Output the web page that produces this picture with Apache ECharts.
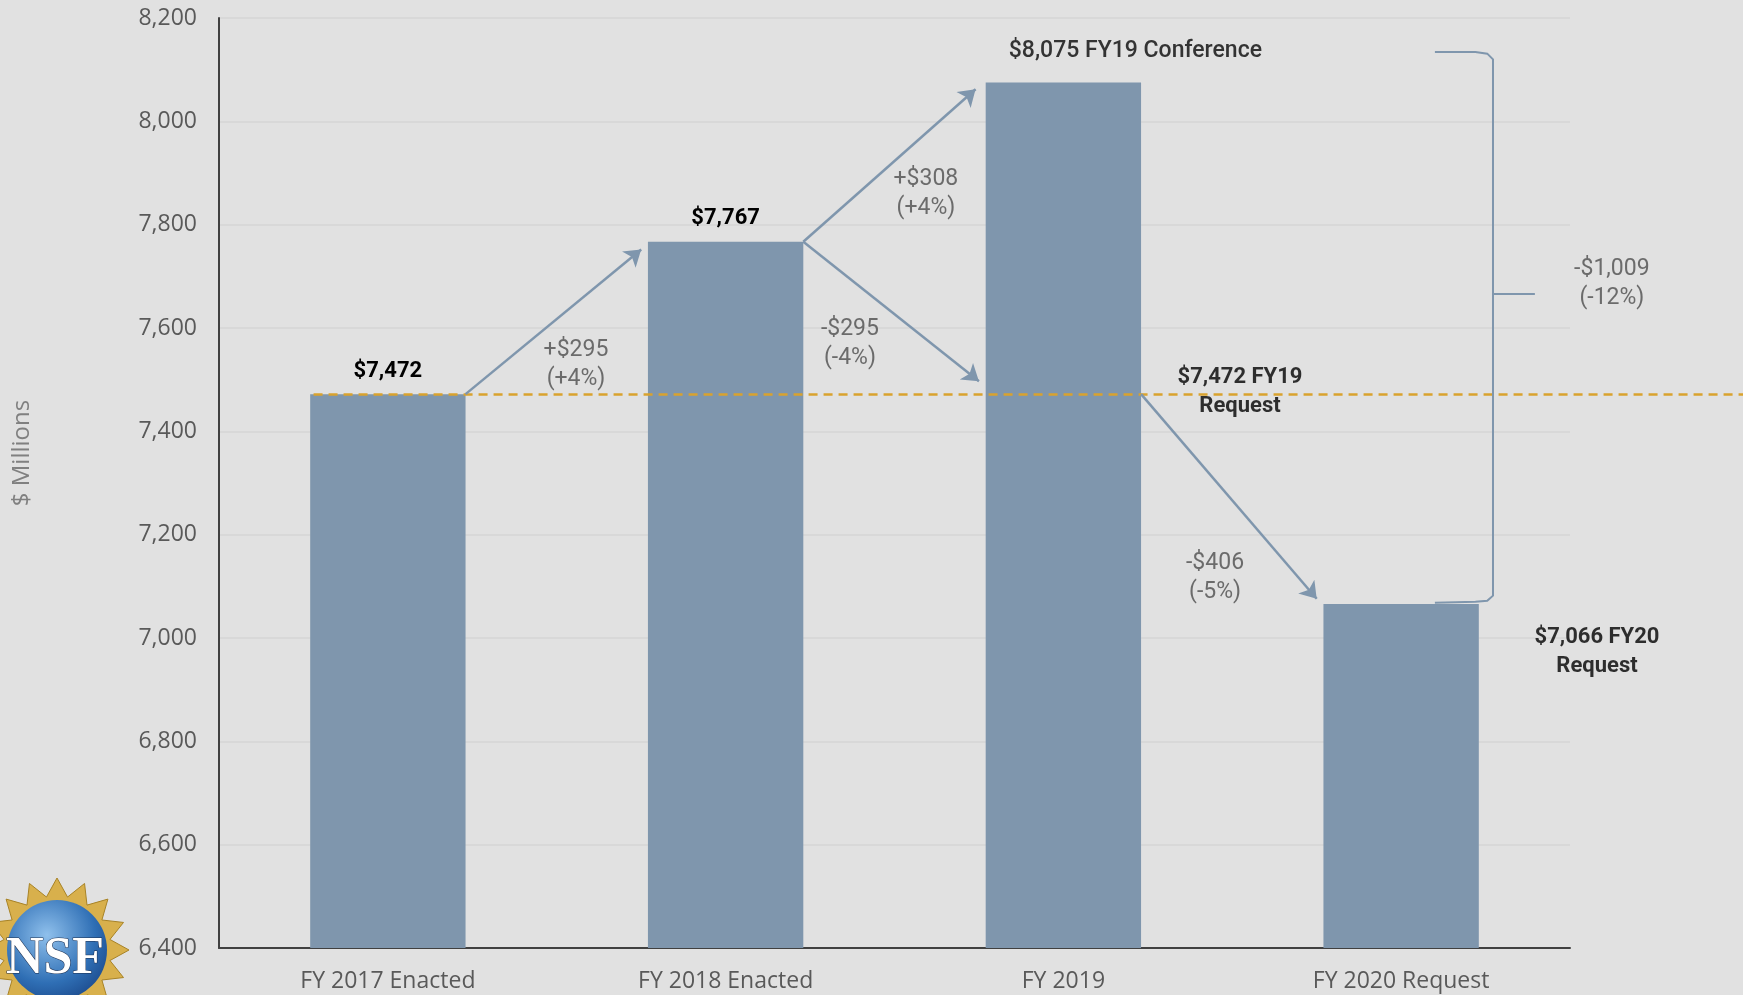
<!DOCTYPE html>
<html>
<head>
<meta charset="utf-8">
<title>NSF Budget</title>
<script src="https://cdn.jsdelivr.net/npm/echarts@6/dist/echarts.min.js"></script>
<style>
html, body { margin: 0; padding: 0; background: #e1e1e1; }
#chart { width: 1743px; height: 995px; }
</style>
</head>
<body>
<div id="chart"></div>
<script>
/* data */
var categories = ['FY 2017 Enacted', 'FY 2018 Enacted', 'FY 2019', 'FY 2020 Request'];
var funding = [7472, 7767, 8075, 7066];
var barLabels = ['$7,472', '$7,767', '$8,075 FY19 Conference', ''];
var yMin = 6400, yMax = 8200, yStep = 200;
var fy19Request = 7472;

/* arrows, [category position, $M] */
var arrows = [
    [[0.23, 7472], [0.75, 7752]],
    [[1.23, 7767], [1.74, 8062]],
    [[1.23, 7767], [1.75, 7497]],
    [[2.23, 7472], [2.75, 7076]]
];
var changeText = ['+$295\n(+4%)', '-$295\n(-4%)', '+$308\n(+4%)', '-$406\n(-5%)', '-$1,009\n(-12%)'];
var changeAt = [[0.557, 7534], [1.368, 7575], [1.593, 7865], [2.449, 7122], [3.624, 7691]];
var noteText = ['$7,472 FY19\nRequest', '$7,066 FY20\nRequest'];
var noteAt = [[2.523, 7482], [3.58, 6979]];
var bracket = [[3.10, 8134], [3.22, 8134], [3.255, 8131], [3.272, 8120], [3.272, 7082], [3.255, 7072], [3.22, 7070], [3.10, 7068]];
var bracketTick = [[3.272, 7666], [3.396, 7666]];

var blue = '#7f96ad';
var annFont = 'Roboto';
var axisFont = '"Open Sans"';

var chart = echarts.init(document.getElementById('chart'));

/* bar labels */
var barData = funding.map(function (v, i) {
    var item = {value: v, label: {show: barLabels[i] !== '', formatter: barLabels[i]}};
    if (i === 2) {
        item.label.distance = 5;
        item.label.offset = [72, -15];
        item.label.color = '#333333';
        item.label.fontWeight = 500;
        item.label.fontSize = 23;
    }
    return item;
});

var changeData = changeText.map(function (t, i) {
    return {value: changeAt[i], label: {formatter: t}};
});
var noteData = noteText.map(function (t, i) {
    return {value: noteAt[i], label: {formatter: t}};
});

/* NSF logo */
var starPts = [];
for (var k = 0; k < 32; k++) {
    var r = k % 2 === 0 ? 72 : 54;
    var a = Math.PI * k / 16 - Math.PI / 2;
    starPts.push([57 + r * Math.cos(a), 950 + r * Math.sin(a)]);
}

var option = {
    backgroundColor: '#e1e1e1',
    animation: false,
    grid: {left: 219, right: 173, top: 18, bottom: 47},
    xAxis: [{
        type: 'category',
        data: categories,
        axisLine: {lineStyle: {color: '#404040', width: 2}},
        axisTick: {show: false},
        axisLabel: {color: '#595959', fontSize: 23, fontFamily: axisFont, margin: 22}
    }, {
        type: 'value',
        min: -0.5,
        max: 3.5,
        show: false
    }],
    yAxis: {
        type: 'value',
        min: yMin,
        max: yMax,
        interval: yStep,
        axisLine: {show: true, onZero: false, lineStyle: {color: '#404040', width: 2}},
        axisTick: {show: false},
        splitLine: {lineStyle: {color: '#d5d5d5', width: 1.5}},
        axisLabel: {
            color: '#595959', fontSize: 23, fontFamily: axisFont, margin: 22,
            formatter: function (v) { return v.toLocaleString('en-US'); }
        }
    },
    series: [{
        type: 'bar',
        data: barData,
        barWidth: '46%',
        itemStyle: {color: blue},
        label: {
            position: 'top', distance: 12,
            color: '#000', fontWeight: 'bold', fontSize: 22, fontFamily: annFont
        },
        z: 2
    }, {
        type: 'lines',
        coordinateSystem: 'cartesian2d',
        xAxisIndex: 1,
        data: [{coords: [[-0.22, fy19Request], [4.2, fy19Request]]}],
        lineStyle: {color: '#d9a22e', width: 2.5, type: [9, 6], opacity: 1},
        symbol: 'none',
        clip: false,
        z: 3
    }, {
        type: 'lines',
        coordinateSystem: 'cartesian2d',
        xAxisIndex: 1,
        data: arrows.map(function (a) { return {coords: a}; }),
        lineStyle: {color: blue, width: 2.5, opacity: 1},
        symbol: ['none', 'arrow'],
        symbolSize: 16,
        z: 4
    }, {
        type: 'lines',
        coordinateSystem: 'cartesian2d',
        xAxisIndex: 1,
        polyline: true,
        data: [{coords: bracket}, {coords: bracketTick}],
        lineStyle: {color: blue, width: 2, opacity: 1},
        symbol: 'none',
        clip: false,
        z: 4
    }, {
        type: 'scatter',
        xAxisIndex: 1,
        data: changeData,
        symbolSize: 1,
        clip: false,
        itemStyle: {color: 'transparent'},
        label: {
            show: true, position: 'inside', align: 'center', verticalAlign: 'middle',
            offset: [0, 3],
            color: '#4d4d4d', fontSize: 23, lineHeight: 29, fontFamily: annFont, fontWeight: 'normal'
        },
        z: 5
    }, {
        type: 'scatter',
        xAxisIndex: 1,
        data: noteData,
        symbolSize: 1,
        clip: false,
        itemStyle: {color: 'transparent'},
        label: {
            show: true, position: 'inside', align: 'center', verticalAlign: 'middle',
            offset: [0, 3],
            color: '#000', fontSize: 22, lineHeight: 29, fontFamily: annFont, fontWeight: 'bold'
        },
        z: 5
    }],
    graphic: [{
        type: 'text',
        x: 22,
        y: 453,
        rotation: Math.PI / 2,
        style: {
            text: '$ Millions', fill: '#808080', font: '24px "Open Sans"',
            align: 'center', verticalAlign: 'middle'
        }
    }, {
        type: 'polygon',
        shape: {points: starPts},
        style: {fill: '#d8b04c', stroke: '#a88326', lineWidth: 1}
    }, {
        type: 'circle',
        shape: {cx: 57, cy: 950, r: 50},
        style: {
            fill: new echarts.graphic.RadialGradient(0.4, 0.35, 0.8, [
                {offset: 0, color: '#8fc0ec'},
                {offset: 0.6, color: '#2f6fb5'},
                {offset: 1, color: '#163f80'}
            ])
        }
    }, {
        type: 'text',
        x: 55,
        y: 960,
        style: {
            text: 'NSF', fill: '#ffffff', font: 'bold 52px "Liberation Serif"',
            align: 'center', verticalAlign: 'middle', stroke: '#1b2d4d', lineWidth: 1
        }
    }]
};

chart.setOption(option);
</script>
</body>
</html>
